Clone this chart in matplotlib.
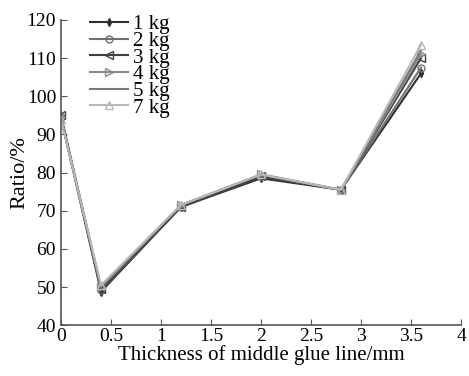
import matplotlib
matplotlib.use('Agg')
import matplotlib.pyplot as plt

plt.rcParams['font.family'] = ['Liberation Serif', 'DejaVu Serif']

# 数据
thickness = [0, 0.4, 1.2, 2.0, 2.8, 3.6]
r_1kg = [94.5, 48.8, 71.0, 78.5, 75.5, 106.0]
r_2kg = [94.5, 49.3, 71.0, 79.0, 75.5, 107.5]
r_3kg = [95.0, 49.5, 71.0, 79.0, 75.5, 110.0]
r_4kg = [94.5, 50.0, 71.5, 79.5, 75.5, 111.0]
r_5kg = [94.0, 50.0, 71.5, 79.5, 75.5, 112.0]
r_7kg = [94.0, 50.5, 71.5, 79.5, 75.5, 113.5]
labels = ['1 kg', '2 kg', '3 kg', '4 kg', '5 kg', '7 kg']
xticks = [0, 0.5, 1, 1.5, 2, 2.5, 3, 3.5, 4]
yticks = [40, 50, 60, 70, 80, 90, 100, 110, 120]

styles = [
    dict(color='#303030', marker='d', ms=4, mfc='#303030'),
    dict(color='#707070', marker='o', ms=5, mfc='none'),
    dict(color='#404040', marker='<', ms=6, mfc='none'),
    dict(color='#8a8a8a', marker='>', ms=6, mfc='none'),
    dict(color='#7a7a7a', marker=None),
    dict(color='#b8b8b8', marker='^', ms=6, mfc='none'),
]

fig = plt.figure(figsize=(4.69, 3.76), dpi=100)
ax = fig.add_axes([0.130, 0.135, 0.853, 0.812])

for ys, lab, st in zip([r_1kg, r_2kg, r_3kg, r_4kg, r_5kg, r_7kg], labels, styles):
    ax.plot(thickness, ys, label=lab, lw=1.5, **st)

ax.set_xlim(0, 4)
ax.set_ylim(40, 120)
ax.set_xticks(xticks)
ax.set_xticklabels(['0', '0.5', '1', '1.5', '2', '2.5', '3', '3.5', '4'])
ax.set_yticks(yticks)
ax.tick_params(direction='in', labelsize=14, length=4, color='#555555')
ax.tick_params(axis='x', pad=2)
for s in ['top', 'right']:
    ax.spines[s].set_visible(False)
for s in ['left', 'bottom']:
    ax.spines[s].set_color('#555555')
    ax.spines[s].set_linewidth(1.2)

ax.set_xlabel('Thickness of middle glue line/mm', fontsize=15, labelpad=0)
ax.set_ylabel('Ratio/%', fontsize=16, labelpad=-2)

ax.legend(loc='upper left', bbox_to_anchor=(0.035, 1.065), frameon=False, fontsize=15,
          handlelength=1.85, labelspacing=-0.14, handletextpad=0.25, borderpad=0.2)

plt.savefig('out.png', dpi=100)
